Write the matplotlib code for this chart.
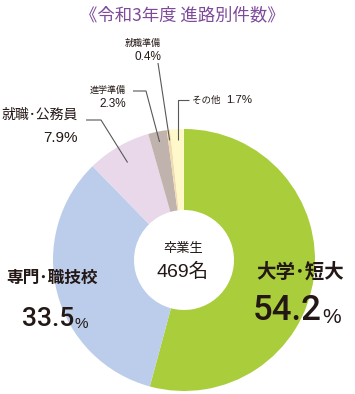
import numpy as np
import matplotlib.pyplot as plt

plt.rcParams['font.family'] = ['Noto Sans CJK JP', 'DejaVu Sans']

categories = ['大学･短大', '専門･職技校', '就職･公務員', '進学準備', '就職準備', 'その他']
shares = [54.2, 33.5, 7.9, 2.3, 0.4, 1.7]
colors = ['#aacd3b', '#bbcdea', '#e8d8ea', '#c0b3ad', '#f2dcae', '#fff8cb']
graduates = 469
title = '《令和3年度 進路別件数》'

W, H = 355, 394
CX, CY, R, R_IN = 184, 260, 131, 50
INK = '#231815'
NUM = ['Liberation Sans', 'Noto Sans CJK JP']
BIG = ['Roboto', 'Liberation Sans']


def Y(y):
    # image coords (y down) -> axes coords (y up)
    return H - y


fig = plt.figure(figsize=(W / 100, H / 100), dpi=100)
ax = fig.add_axes([0, 0, 1, 1])
wedges, _ = ax.pie(shares, colors=colors, startangle=90, counterclock=False,
                   center=(CX, Y(CY)), radius=R, frame=True,
                   wedgeprops=dict(width=R - R_IN, linewidth=0))
ax.set_xlim(0, W)
ax.set_ylim(0, H)
ax.axis('off')


def tip(i, frac):
    w = wedges[i]
    a = np.deg2rad((w.theta1 + w.theta2) / 2)
    return CX + R * frac * np.cos(a), Y(CY) + R * frac * np.sin(a)


def leader(i, pts, frac=0.9):
    tx, ty = tip(i, frac)
    xs = [p[0] for p in pts] + [tx]
    ys = [Y(p[1]) for p in pts] + [ty]
    ax.plot(xs, ys, color='#595757', lw=0.8, solid_capstyle='butt')


# leader lines
leader(4, [(158, 63)], 0.92)
leader(3, [(133, 91), (146, 91)], 0.92)
tx5, _ = tip(5, 0.92)
leader(5, [(189, 100), (tx5, 100)], 0.92)
leader(2, [(86, 120), (101, 120)], 0.86)

# title
ax.text(182, Y(15), title, ha='center', va='center', fontsize=12.5, color='#7e4a9a')

# small labels
ax.text(143, Y(43), categories[4], ha='center', va='center', fontsize=6.5, color=INK)
ax.text(148, Y(57), f'{shares[4]}%', ha='center', va='center', fontsize=8.5, color=INK, family=NUM)
ax.text(108, Y(90), categories[3], ha='center', va='center', fontsize=6.5, color=INK)
ax.text(113, Y(104), f'{shares[3]}%', ha='center', va='center', fontsize=8.5, color=INK, family=NUM)
t5 = ax.text(192, Y(100), categories[5], ha='left', va='center', fontsize=6.8, color=INK)
ax.annotate(f'{shares[5]}%', xy=(1, 0.5), xycoords=t5, xytext=(4, 0), textcoords='offset points',
            ha='left', va='center', fontsize=8.2, color=INK, family=NUM)

ax.text(40, Y(115), categories[2], ha='center', va='center', fontsize=10, color=INK)
ax.text(61, Y(138), f'{shares[2]}%', ha='center', va='center', fontsize=11, color=INK, family=NUM)

# big labels
ax.text(52, Y(278), categories[1], ha='center', va='center', fontsize=12, color=INK, weight='bold')
t1 = ax.text(22, Y(326), f'{shares[1]}', ha='left', va='baseline', fontsize=19, color=INK,
             family=BIG, weight='medium')
ax.annotate('%', xy=(1, 0), xycoords=t1, xytext=(0.5, 0), textcoords='offset points',
            ha='left', va='bottom', fontsize=11, color=INK, family=NUM)

ax.text(300, Y(272), categories[0], ha='center', va='center', fontsize=14, color=INK, weight='bold')
t0 = ax.text(253, Y(320), f'{shares[0]}', ha='left', va='baseline', fontsize=25, color=INK,
             family=BIG, weight='medium')
ax.annotate('%', xy=(1, 0), xycoords=t0, xytext=(0.5, 0), textcoords='offset points',
            ha='left', va='bottom', fontsize=15, color=INK, family=NUM)

# centre
ax.text(CX - 1, Y(248), '卒業生', ha='center', va='center', fontsize=9.5, color=INK)
ax.text(CX - 1, Y(272), f'{graduates}名', ha='center', va='center', fontsize=14, color=INK, family=NUM)

fig.savefig('out.png', dpi=100)
